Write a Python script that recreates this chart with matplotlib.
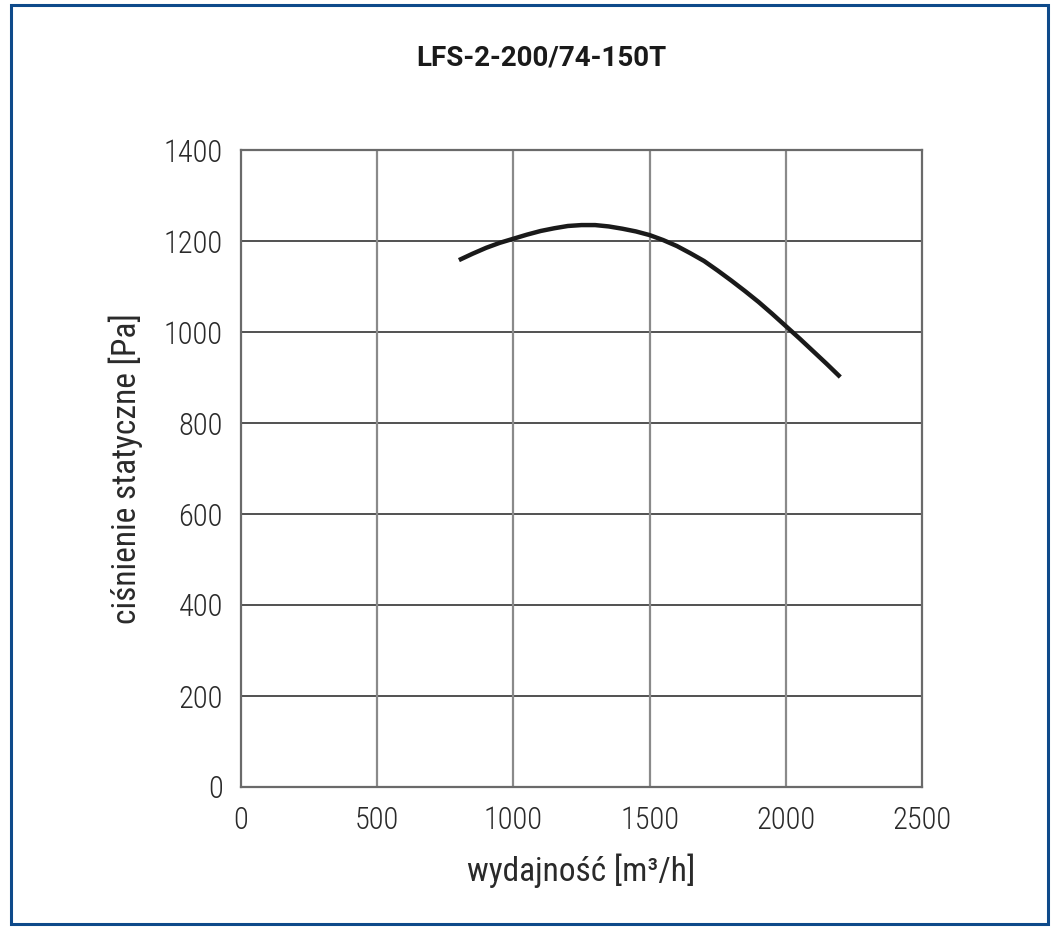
import matplotlib.pyplot as plt
from matplotlib.patches import Rectangle

# fan curve
flow = [800, 850, 900, 950, 1000, 1050, 1100, 1150, 1200, 1250, 1300, 1350,
        1400, 1450, 1500, 1550, 1600, 1650, 1700, 1750, 1800, 1850, 1900,
        1950, 2000, 2050, 2100, 2150, 2200]
pressure = [1158, 1172, 1185, 1196, 1205, 1214, 1222, 1228, 1233, 1235, 1235,
            1232, 1227, 1221, 1213, 1202, 1189, 1173, 1156, 1135, 1113, 1090,
            1066, 1040, 1013, 986, 958, 930, 901]

x_ticks = [0, 500, 1000, 1500, 2000, 2500]
y_ticks = [0, 200, 400, 600, 800, 1000, 1200, 1400]

FONT = ["Roboto Condensed", "Roboto", "DejaVu Sans"]
plt.rcParams["font.family"] = FONT
plt.rcParams["font.weight"] = "light"

fig = plt.figure(figsize=(10.6, 9.3), dpi=100)
ax = fig.add_axes([241 / 1060, 1 - 787 / 930, 681 / 1060, 637 / 930])

ax.plot(flow, pressure, color="#1a1a1a", lw=3.2, solid_joinstyle="round",
        solid_capstyle="butt", zorder=3)

ax.set_xlim(0, 2500)
ax.set_ylim(0, 1400)
ax.set_xticks(x_ticks)
ax.set_yticks(y_ticks)
ax.tick_params(length=0, labelsize=22, colors="#2a2a2a", pad=13)
ax.tick_params(axis="x", pad=14)

for y in y_ticks[1:-1]:
    ax.axhline(y, color="#333333", lw=1.2, zorder=1)
for x in x_ticks[1:-1]:
    ax.axvline(x, color="#8a8a8a", lw=1.6, zorder=1)
for s in ax.spines.values():
    s.set_color("#6a6a6a")
    s.set_linewidth(1.6)

ax.set_xlabel("wydajność [m³/h]", fontsize=24, color="#2a2a2a", labelpad=13)
ax.set_ylabel("ciśnienie statyczne [Pa]", fontsize=24, color="#2a2a2a", labelpad=15)

fig.text(541 / 1060, 1 - 58 / 930, "LFS-2-200/74-150T", ha="center", va="center",
         fontsize=20, fontweight="bold", color="#1a1a1a",
         family=["Roboto", "DejaVu Sans"])

fig.patches.append(Rectangle((11 / 1060, 1 - 924 / 930), 1037 / 1060, 919 / 930,
                             transform=fig.transFigure, fill=False,
                             edgecolor="#0e4a8a", lw=2.2))

fig.savefig("out.png")
